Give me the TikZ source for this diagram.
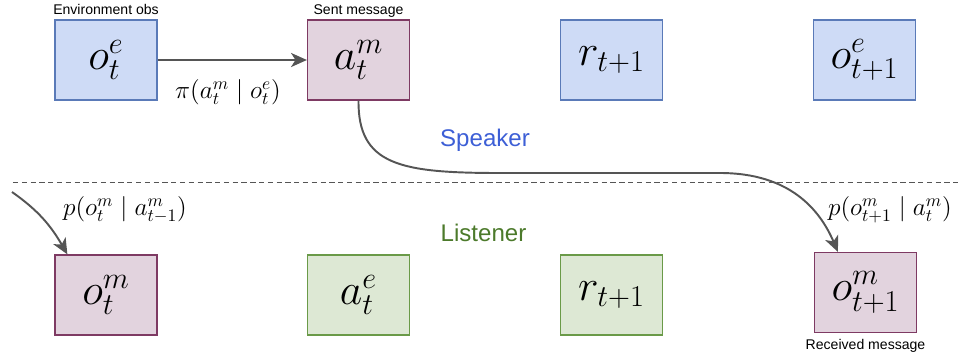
\documentclass[tikz,border=0pt]{standalone}
\usepackage{fontspec}
\setsansfont{Liberation Sans}
\usetikzlibrary{positioning,arrows.meta}

\definecolor{envfill}{HTML}{CEDBF6}
\definecolor{envdraw}{HTML}{5A7AB8}
\definecolor{msgfill}{HTML}{E2D3DE}
\definecolor{msgdraw}{HTML}{7E3A63}
\definecolor{actfill}{HTML}{DDE8D4}
\definecolor{actdraw}{HTML}{6A9A48}
\definecolor{spkblue}{HTML}{3D5FD6}
\definecolor{lstgreen}{HTML}{4C7A2B}
\definecolor{linegray}{HTML}{555555}

\begin{document}
\begin{tikzpicture}[
        box/.style={draw, line width=0.7pt, minimum width=2.04cm, minimum height=1.6cm, inner sep=0pt, font=\fontsize{23}{27}\selectfont},
        envbox/.style={box, fill=envfill, draw=envdraw},
        msgbox/.style={box, fill=msgfill, draw=msgdraw},
        actbox/.style={box, fill=actfill, draw=actdraw},
        caption/.style={inner sep=0pt, font=\sffamily\fontsize{8}{9.6}\selectfont},
        side/.style={inner sep=0pt, anchor=base, font=\sffamily\fontsize{13.7}{16}\selectfont},
        prob/.style={inner sep=0pt, font=\fontsize{14}{17}\selectfont},
        flow/.style={draw=linegray, line width=1.1pt, -{Stealth[length=9pt, width=8pt, inset=2.5pt]}},
        divider/.style={draw=linegray, line width=0.5pt, dash pattern=on 3pt off 2pt}
    ]
        \useasboundingbox (0,0) rectangle (19.18,7.12);

        % speaker row
        \node[envbox] (oet) at (2.12,5.92) {$o^e_t$};
        \node[msgbox] (amt) at (7.17,5.92) {$a^m_t$};
        \node[envbox] (rtop) at (12.23,5.92) {$r_{t+1}$};
        \node[envbox] (oenext) at (17.29,5.92) {$o^e_{t+1}$};
        \node[caption, above=0.1cm of oet, anchor=base] (envcap) {Environment obs};
        \node[caption, above=0.1cm of amt, anchor=base] (sentcap) {Sent message};

        % listener row
        \node[msgbox] (omt) at (2.12,1.22) {$o^m_t$};
        \node[actbox] (aet) at (7.17,1.22) {$a^e_t$};
        \node[actbox] (rbot) at (12.23,1.22) {$r_{t+1}$};
        \node[msgbox] (omnext) at (17.31,1.27) {$o^m_{t+1}$};
        \node[caption, below=0.12cm of omnext] (recvcap) {Received message};

        \node[side, text=spkblue] (speaker) at (9.7,4.19) {Speaker};
        \node[side, text=lstgreen] (listener) at (9.67,2.29) {Listener};

        \coordinate (divl) at (0.26,3.48);
        \coordinate (divr) at (19.18,3.48);
        \draw[divider] (divl) -- (divr);

        \draw[flow] (oet) -- (amt);
        \node[prob] (pol) at (4.56,5.28) {$\pi(a^m_t \mid o^e_t)$};

        \draw[flow] (amt.south) .. controls (7.16,3.82) and (8.0,3.66) .. (10.0,3.66)
            -- (14.4,3.66) .. controls (15.8,3.66) and (16.4,2.92) .. ([xshift=0.48cm]omnext.north west);
        \node[prob] (liknext) at (17.8,2.92) {$p(o^m_{t+1} \mid a^m_t)$};

        \coordinate (prevmsg) at (0.24,3.28);
        \draw[flow] (prevmsg) to[out=-35, in=120] ([xshift=0.26cm]omt.north west);
        \node[prob] (lik) at (2.5,2.92) {$p(o^m_t \mid a^m_{t-1})$};
    \end{tikzpicture}
\end{document}
